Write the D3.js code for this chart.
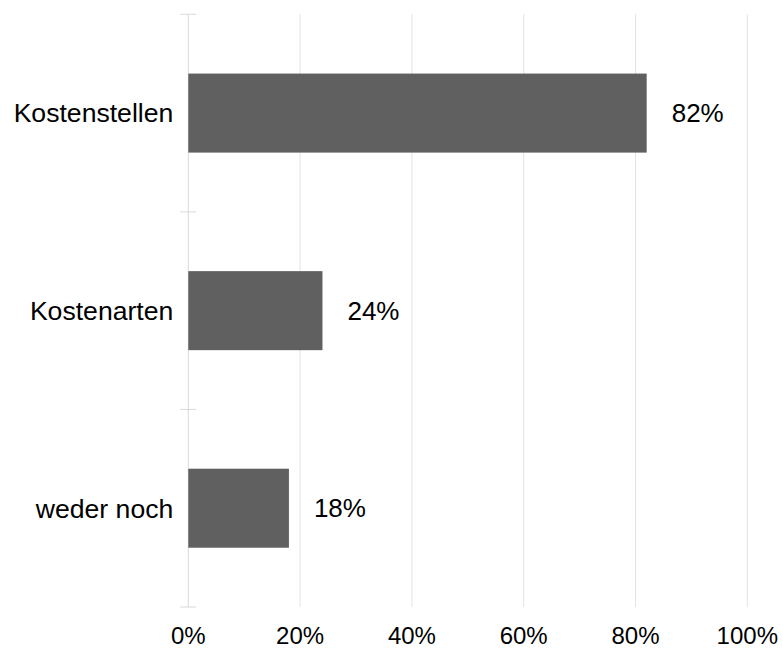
<!DOCTYPE html>
<html>
<head>
<meta charset="utf-8">
<script src="https://cdn.jsdelivr.net/npm/d3@7"></script>
<style>
  html, body { margin: 0; padding: 0; background: #fff; }
  svg text { font-family: "Liberation Sans", Arial, sans-serif; fill: #000; }
</style>
</head>
<body>
<svg id="chart" width="783" height="649"></svg>
<script>
// Categories and shares (percent)
const categories = ["Kostenstellen", "Kostenarten", "weder noch"];
const values = [82, 24, 18];
const xTicks = [0, 20, 40, 60, 80, 100];

const svg = d3.select("#chart");
const plotLeft = 188.3, plotRight = 747.3, plotTop = 14.3, plotBottom = 607;

const x = d3.scaleLinear().domain([0, 100]).range([plotLeft, plotRight]);
const y = d3.scaleBand().domain(categories).range([plotTop, plotBottom])
  .paddingInner(0.6).paddingOuter(0.3);

const gridColor = "#e3e3e3";
const axisColor = "#d9d9d9";

// vertical gridlines
svg.append("g").selectAll("line")
  .data(xTicks.filter(d => d > 0))
  .join("line")
  .attr("x1", d => x(d)).attr("x2", d => x(d))
  .attr("y1", plotTop).attr("y2", plotBottom)
  .attr("stroke", gridColor).attr("stroke-width", 1);

// category axis line and band boundary ticks
svg.append("line")
  .attr("x1", x(0)).attr("x2", x(0))
  .attr("y1", plotTop).attr("y2", plotBottom)
  .attr("stroke", axisColor).attr("stroke-width", 1);

const step = y.step();
const bounds = d3.range(categories.length + 1).map(i => plotTop + i * step);
svg.append("g").selectAll("line")
  .data(bounds)
  .join("line")
  .attr("x1", x(0) - 8).attr("x2", x(0) + 8)
  .attr("y1", d => d).attr("y2", d => d)
  .attr("stroke", axisColor).attr("stroke-width", 1);

// bars
svg.append("g").selectAll("rect")
  .data(categories)
  .join("rect")
  .attr("x", x(0))
  .attr("y", d => y(d))
  .attr("width", (d, i) => x(values[i]) - x(0))
  .attr("height", y.bandwidth())
  .attr("fill", "#606060");

// value labels
svg.append("g").selectAll("text")
  .data(categories)
  .join("text")
  .attr("x", (d, i) => x(values[i]) + 25)
  .attr("y", d => y(d) + y.bandwidth() / 2)
  .attr("dy", "0.35em")
  .attr("font-size", 26)
  .text((d, i) => values[i] + "%");

// category labels
svg.append("g").selectAll("text")
  .data(categories)
  .join("text")
  .attr("x", x(0) - 15)
  .attr("y", d => y(d) + y.bandwidth() / 2)
  .attr("dy", "0.35em")
  .attr("text-anchor", "end")
  .attr("font-size", 26.6)
  .text(d => d);

// percentage tick labels
svg.append("g").selectAll("text")
  .data(xTicks)
  .join("text")
  .attr("x", d => x(d))
  .attr("y", 643.5)
  .attr("text-anchor", "middle")
  .attr("font-size", 24)
  .text(d => d + "%");
</script>
</body>
</html>
